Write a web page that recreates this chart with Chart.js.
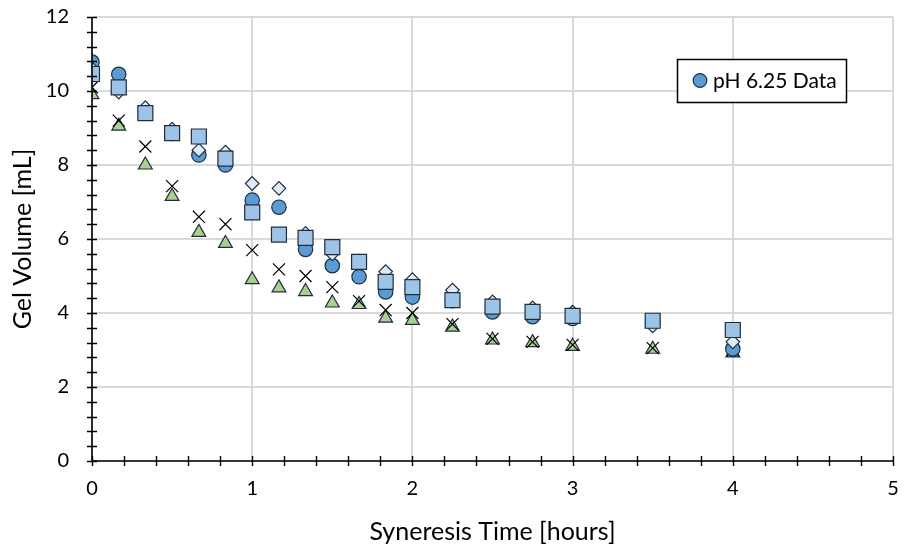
<!DOCTYPE html>
<html>
<head>
<meta charset="utf-8">
<script src="https://cdn.jsdelivr.net/npm/chart.js@4"></script>
<style>
  html, body { margin: 0; padding: 0; background: #fff; }
  #wrap { width: 908px; height: 549px; }
</style>
</head>
<body>
<div id="wrap"><canvas id="c" width="908" height="549"></canvas></div>
<script>
// Syneresis time in hours
const times = [0, 0.167, 0.333, 0.5, 0.667, 0.833, 1, 1.167, 1.333, 1.5, 1.667, 1.833, 2, 2.25, 2.5, 2.75, 3, 3.5, 4];

// Gel volume [mL] for each run
const circleVals   = [10.78, 10.45, 9.42, 8.85, 8.27, 8.0, 7.05, 6.86, 5.72, 5.28, 4.98, 4.57, 4.43, 4.33, 4.03, 3.9, 3.85, 3.75, 3.03];
const diamondVals  = [10.6, 9.97, 9.55, 8.97, 8.4, 8.35, 7.5, 7.37, 6.15, 5.6, 5.4, 5.12, 4.9, 4.62, 4.3, 4.14, 4.02, 3.65, 3.22];
const squareVals   = [10.46, 10.1, 9.4, 8.86, 8.77, 8.17, 6.72, 6.12, 6.03, 5.78, 5.38, 4.84, 4.7, 4.35, 4.17, 4.03, 3.92, 3.79, 3.54];
const crossVals    = [10.1, 9.2, 8.5, 7.43, 6.6, 6.4, 5.7, 5.18, 5.0, 4.7, 4.32, 4.08, 4.0, 3.7, 3.3, 3.22, 3.14, 3.05, 3.0];
const triangleVals = [9.9, 9.05, 8.0, 7.15, 6.18, 5.88, 4.9, 4.68, 4.58, 4.27, 4.23, 3.86, 3.8, 3.62, 3.27, 3.2, 3.1, 3.02, 2.92];

const seriesLabels = ['pH 6.25 Data', 'Run B', 'Run C', 'Run D', 'Run E'];

// Axis ranges and tick spacing
const xRange = [0, 5];
const yRange = [0, 12];
const xMajor = 1, xMinor = 0.2;
const yMajor = 2, yMinor = 0.4;

const FONT = 'Lato, "Open Sans", sans-serif';

const toPts = vals => times.map((t, i) => ({ x: t, y: vals[i] }));

// Axis lines with tick marks that cross the axis, major and minor
const crossTicks = {
  id: 'crossTicks',
  afterDatasetsDraw(chart) {
    const { ctx, chartArea: a, scales: { x, y } } = chart;
    ctx.save();
    ctx.strokeStyle = '#000';
    ctx.lineWidth = 1.6;
    ctx.beginPath();
    ctx.moveTo(a.left, a.top); ctx.lineTo(a.left, a.bottom); ctx.lineTo(a.right, a.bottom);
    ctx.stroke();
    ctx.lineWidth = 1.4;
    ctx.beginPath();
    const nx = Math.round((xRange[1] - xRange[0]) / xMinor);
    for (let i = 0; i <= nx; i++) {
      const px = Math.round(x.getPixelForValue(xRange[0] + i * xMinor)) + 0.5;
      ctx.moveTo(px, a.bottom - 5); ctx.lineTo(px, a.bottom + 5);
    }
    const ny = Math.round((yRange[1] - yRange[0]) / yMinor);
    for (let i = 0; i <= ny; i++) {
      const py = Math.round(y.getPixelForValue(yRange[0] + i * yMinor)) + 0.5;
      ctx.moveTo(a.left - 5, py); ctx.lineTo(a.left + 5, py);
    }
    ctx.stroke();
    ctx.restore();
  }
};

// Boxed legend inside the plot area for the first series
const boxLegend = {
  id: 'boxLegend',
  afterDraw(chart) {
    const { ctx } = chart;
    const ds = chart.data.datasets[0];
    const left = 677, top = 59, w = 169, h = 43;
    const cy = top + h / 2;
    ctx.save();
    ctx.fillStyle = '#fff';
    ctx.fillRect(left, top, w, h);
    ctx.strokeStyle = '#000';
    ctx.lineWidth = 1.5;
    ctx.strokeRect(left + 0.5, top + 0.5, w, h);
    ctx.beginPath();
    ctx.arc(left + 23, cy, 6.8, 0, Math.PI * 2);
    ctx.fillStyle = ds.backgroundColor;
    ctx.fill();
    ctx.lineWidth = 1.2;
    ctx.strokeStyle = ds.borderColor;
    ctx.stroke();
    ctx.fillStyle = '#000';
    ctx.font = '21px ' + FONT;
    ctx.textBaseline = 'middle';
    ctx.fillText(ds.label, left + 36, cy + 1);
    ctx.restore();
  }
};

new Chart(document.getElementById('c'), {
  type: 'scatter',
  data: {
    datasets: [
      { label: seriesLabels[0], data: toPts(circleVals), pointStyle: 'circle', pointRadius: 7.2,
        backgroundColor: '#5B9BD5', borderColor: '#1f2d3d', borderWidth: 1.2, order: 3 },
      { label: seriesLabels[1], data: toPts(diamondVals), pointStyle: 'rectRot', pointRadius: 6.8,
        backgroundColor: '#DEEBF7', borderColor: '#1f2d3d', borderWidth: 1.2, order: 2 },
      { label: seriesLabels[2], data: toPts(squareVals), pointStyle: 'rect', pointRadius: 10.6,
        backgroundColor: '#9DC3E6', borderColor: '#1f2d3d', borderWidth: 1.2, order: 1 },
      { label: seriesLabels[3], data: toPts(crossVals), pointStyle: 'crossRot', pointRadius: 8.5,
        backgroundColor: '#000', borderColor: '#000', borderWidth: 1.2, order: 4 },
      { label: seriesLabels[4], data: toPts(triangleVals), pointStyle: 'triangle', pointRadius: 8,
        backgroundColor: '#A9D18E', borderColor: '#1f2d3d', borderWidth: 1.2, order: 5 }
    ]
  },
  options: {
    responsive: false,
    animation: false,
    events: [],
    layout: { autoPadding: false, padding: { left: 0, right: 15, top: 17, bottom: 0 } },
    plugins: { legend: { display: false }, tooltip: { enabled: false } },
    scales: {
      x: {
        type: 'linear', min: xRange[0], max: xRange[1],
        grid: { color: '#d9d9d9', lineWidth: 2, drawTicks: false },
        border: { display: false },
        ticks: { stepSize: xMajor, padding: 16, color: '#000', font: { family: FONT, size: 20 } },
        title: { display: true, text: 'Syneresis Time [hours]', color: '#000', font: { family: FONT, size: 25 }, padding: { top: 4, bottom: 2 } },
        afterFit(s) { s.height = 88; s.paddingLeft = 0; s.paddingRight = 0; }
      },
      y: {
        type: 'linear', min: yRange[0], max: yRange[1],
        grid: { color: '#d9d9d9', lineWidth: 2, drawTicks: false },
        border: { display: false },
        ticks: { stepSize: yMajor, padding: 23, color: '#000', font: { family: FONT, size: 20 } },
        title: { display: true, text: 'Gel Volume [mL]', color: '#000', font: { family: FONT, size: 25 }, padding: { top: 8, bottom: 4 } },
        afterFit(s) { s.width = 92; s.paddingTop = 0; s.paddingBottom = 0; }
      }
    }
  },
  plugins: [crossTicks, boxLegend]
});
</script>
</body>
</html>
